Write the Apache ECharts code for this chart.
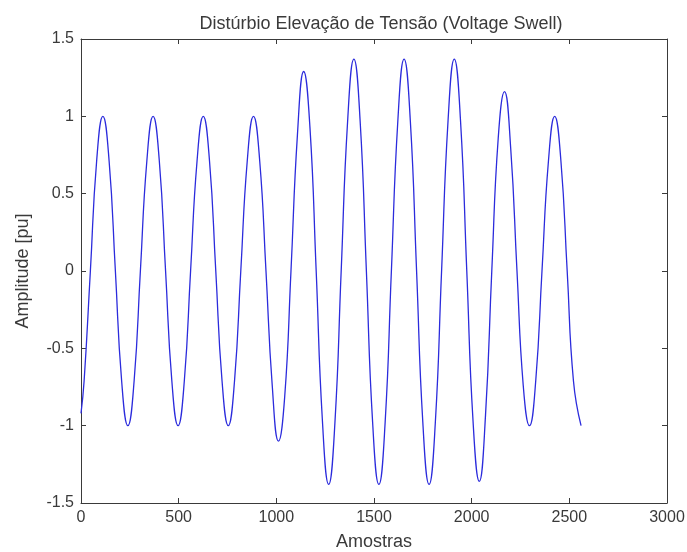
<!DOCTYPE html>
<html>
<head>
<meta charset="utf-8">
<script src="https://cdn.jsdelivr.net/npm/echarts@6/dist/echarts.min.js"></script>
<style>
  html, body { margin: 0; padding: 0; background: #fff; }
  #chart { width: 687px; height: 552px; }
</style>
</head>
<body>
<div id="chart"></div>
<script>
// Sample index (Amostras) of each plotted point
const amostras = [
  0, 16, 48, 80, 112, 144, 176, 208, 240,
  272, 304, 337, 369, 401, 433, 465, 497,
  529, 561, 594, 626, 658, 690, 722, 754,
  786, 818, 851, 883, 915, 947, 979, 1011,
  1043, 1075, 1108, 1140, 1172, 1204, 1236, 1268,
  1300, 1332, 1365, 1397, 1429, 1461, 1493, 1525,
  1557, 1589, 1622, 1654, 1686, 1718, 1750, 1782,
  1814, 1846, 1879, 1911, 1943, 1975, 2007, 2039,
  2071, 2103, 2136, 2168, 2200, 2232, 2264, 2296,
  2328, 2360, 2393, 2425, 2457, 2489, 2521, 2560
];

// Voltage amplitude in per-unit at each sample above
const amplitude = [
  -0.92, -0.71, 0, 0.71, 1.0, 0.71, 0, -0.71, -1.0,
  -0.71, 0, 0.71, 1.0, 0.71, 0, -0.71, -1.0,
  -0.71, 0, 0.71, 1.0, 0.71, 0, -0.71, -1.0,
  -0.71, 0, 0.71, 1.0, 0.71, 0, -0.74, -1.10,
  -0.81, 0, 0.88, 1.29, 0.93, 0, -0.97, -1.38,
  -0.98, 0, 0.97, 1.37, 0.97, 0, -0.98, -1.38,
  -0.98, 0, 0.97, 1.37, 0.97, 0, -0.98, -1.38,
  -0.98, 0, 0.97, 1.37, 0.97, 0, -0.97, -1.36,
  -0.93, 0, 0.86, 1.16, 0.79, 0, -0.74, -1.0,
  -0.71, 0, 0.71, 1.0, 0.71, 0, -0.71, -1.0
];

const xTicks = [0, 500, 1000, 1500, 2000, 2500, 3000];
const yTicks = [-1.5, -1, -0.5, 0, 0.5, 1, 1.5];

const FONT = '"Liberation Sans", Arial, sans-serif';
const AXIS_COLOR = '#3a3a3a';
const TEXT_COLOR = '#3a3a3a';

const points = amostras.map((x, i) => [x, amplitude[i]]);

const xRange = { min: xTicks[0], max: xTicks[xTicks.length - 1], interval: xTicks[1] - xTicks[0] };
const yRange = { min: yTicks[0], max: yTicks[yTicks.length - 1], interval: yTicks[1] - yTicks[0] };

function frameAxis(extra) {
  return Object.assign({
    type: 'value',
    axisLine: { show: true, onZero: false, lineStyle: { color: AXIS_COLOR, width: 1 } },
    axisTick: { show: true, inside: true, length: 5, lineStyle: { color: AXIS_COLOR } },
    splitLine: { show: false },
    axisLabel: { show: false }
  }, extra);
}

const chart = echarts.init(document.getElementById('chart'), null, { renderer: 'canvas' });

chart.setOption({
  animation: false,
  backgroundColor: '#ffffff',
  title: {
    text: 'Distúrbio Elevação de Tensão (Voltage Swell)',
    left: 376,
    textAlign: 'center',
    top: 10,
    textStyle: { fontFamily: FONT, fontSize: 18, fontWeight: 'normal', color: TEXT_COLOR }
  },
  grid: {
    left: 81, right: 20, top: 39, bottom: 49,
    containLabel: false,
    outerBoundsMode: 'none'
  },
  xAxis: [
    frameAxis(Object.assign({
      position: 'bottom',
      name: 'Amostras',
      nameLocation: 'middle',
      nameGap: 30,
      nameTextStyle: { fontFamily: FONT, fontSize: 18, color: TEXT_COLOR },
      axisLabel: {
        show: true, margin: 7,
        fontFamily: FONT, fontSize: 16, color: TEXT_COLOR,
        formatter: v => String(v)
      }
    }, xRange)),
    frameAxis(Object.assign({ position: 'top' }, xRange))
  ],
  yAxis: [
    frameAxis(Object.assign({
      position: 'left',
      name: 'Amplitude [pu]',
      nameLocation: 'middle',
      nameGap: 49,
      nameTextStyle: { fontFamily: FONT, fontSize: 18, color: TEXT_COLOR },
      axisLabel: {
        show: true, margin: 7,
        fontFamily: FONT, fontSize: 16, color: TEXT_COLOR,
        formatter: v => String(v)
      }
    }, yRange)),
    frameAxis(Object.assign({ position: 'right' }, yRange))
  ],
  series: [{
    type: 'line',
    xAxisIndex: 0,
    yAxisIndex: 0,
    data: points,
    smooth: 0.5,
    showSymbol: false,
    lineStyle: { color: '#2b2bdc', width: 1.3 }
  }]
});
</script>
</body>
</html>
